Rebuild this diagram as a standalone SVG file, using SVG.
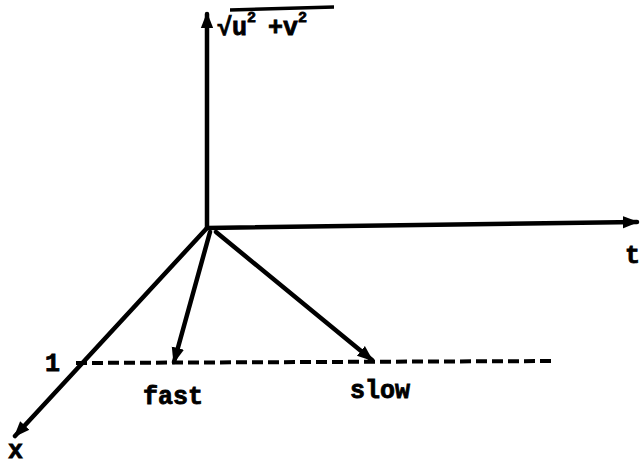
<svg xmlns="http://www.w3.org/2000/svg" width="642" height="465" viewBox="0 0 642 465">
<style>
.ax{stroke:#000;stroke-width:4.5;fill:none;stroke-linecap:round}
.dash{stroke:#000;stroke-width:4;fill:none;stroke-dasharray:11 5}
.lbl{font-family:"Liberation Mono","DejaVu Sans Mono",monospace;font-weight:bold;font-size:25px;fill:#000;stroke:#000;stroke-width:0.8}
.sup{font-size:15px}
</style>
<defs>
<marker id="ah" markerWidth="5" markerHeight="5" refX="3.2" refY="2" orient="auto" markerUnits="strokeWidth">
<path d="M0,0.6 L3.6,2 L0,3.4 Z" fill="#000"/>
</marker>
</defs>
<rect width="642" height="465" fill="#fff"/>
<g id="connectors">
<line class="ax" x1="207" y1="228" x2="207" y2="14" marker-end="url(#ah)"/>
<line class="ax" x1="207" y1="228" x2="637" y2="222" marker-end="url(#ah)"/>
<line class="ax" x1="207" y1="228" x2="15" y2="436" marker-end="url(#ah)"/>
<line class="ax" x1="210" y1="232" x2="174" y2="362" marker-end="url(#ah)"/>
<line class="ax" x1="216" y1="232" x2="372" y2="360" marker-end="url(#ah)"/>
<line class="dash" x1="76" y1="363" x2="556" y2="361"/>
</g>
<g id="label-y">
<text class="lbl" x="217" y="35">√u<tspan class="sup" dy="-13">2</tspan><tspan dy="13" dx="12">+v</tspan><tspan class="sup" dy="-13">2</tspan></text>
<line x1="230" y1="10" x2="334" y2="7" stroke="#000" stroke-width="3.5"/>
</g>
<g id="label-t"><text class="lbl" x="625" y="263">t</text></g>
<g id="label-x"><text class="lbl" x="8" y="458">x</text></g>
<g id="label-1"><text class="lbl" x="45" y="371">1</text></g>
<g id="label-fast"><text class="lbl" x="143" y="404">fast</text></g>
<g id="label-slow"><text class="lbl" x="350" y="398">slow</text></g>
</svg>
